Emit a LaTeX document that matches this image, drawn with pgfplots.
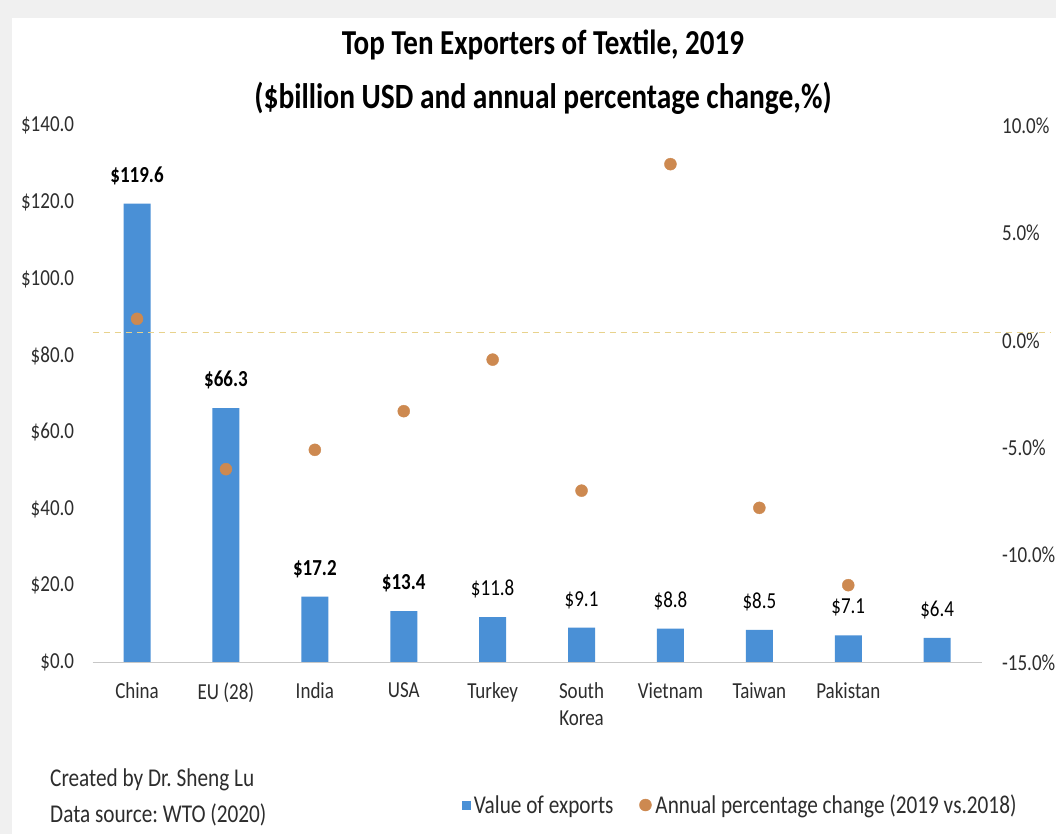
\documentclass[border=0pt]{standalone}
\usepackage{pgfplots}
\pgfplotsset{compat=1.18}
\usepackage{fontspec}
% the reference's text is set taller than it is wide
\setmainfont{Carlito}[FakeStretch=0.83]
\frenchspacing

\definecolor{barblue}{RGB}{74,144,214}
\definecolor{dotorange}{RGB}{205,137,80}
\definecolor{zeroline}{RGB}{232,210,140}
\definecolor{txt}{RGB}{45,45,45}

\newcommand{\lbl}{\fontsize{22.9}{27}\selectfont}
\newcommand{\note}{\fontsize{25.6}{30}\selectfont}

\begin{document}
\begin{tikzpicture}[x=1pt,y=1pt]
% page 1056 x 834, origin at the lower left corner of the axis box
\useasboundingbox (-92.6,-171.5) rectangle (963.4,662.5);
\fill[black!6] (-92.6,-171.5) rectangle (963.4,662.5);
\fill[white] (-80.6,-171.5) rectangle (963.4,644.5);

% titles and notes
\node[font=\fontsize{35}{40}\selectfont\bfseries] at (450.4,617.5) {Top Ten Exporters of Textile, 2019};
\node[font=\fontsize{35.5}{40}\selectfont\bfseries] at (450.4,564.5) {(\$billion USD and annual percentage change,\%)};
\node[font=\note, text=txt, anchor=west, inner sep=0pt] at (-42.6,-117.5) {Created by Dr.~Sheng Lu};
\node[font=\note, text=txt, anchor=west, inner sep=0pt] at (-42.6,-152.5) {Data source: WTO (2020)};

% exports, left axis
\begin{axis}[
  at={(0,0)}, anchor=south west,
  scale only axis, width=889pt, height=537pt,
  ybar, bar width=27pt,
  xmin=-0.5, xmax=9.5, ymin=0, ymax=140,
  xtick={0,...,9},
  xticklabels={China,EU (28),India,USA,Turkey,South\\Korea,Vietnam,Taiwan,Pakistan,},
  xticklabel style={align=center, font=\lbl, text=txt, yshift=-16.5pt},
  ytick={0,20,...,140},
  yticklabels={\$0.0,\$20.0,\$40.0,\$60.0,\$80.0,\$100.0,\$120.0,\$140.0},
  yticklabel style={font=\lbl, text=txt, xshift=-15pt},
  major tick length=0pt,
  axis line style={draw=none},
  point meta=explicit symbolic,
  nodes near coords,
  every node near coord/.append style={font=\lbl, text=black, yshift=15.5pt},
  clip=false,
]
\addplot[fill=barblue, draw=none] coordinates {
  (0,119.6) [\textbf{\$119.6}]
  (1,66.3)  [\textbf{\$66.3}]
  (2,17.2)  [\textbf{\$17.2}]
  (3,13.4)  [\textbf{\$13.4}]
  (4,11.8)  [\$11.8]
  (5,9.1)   [\$9.1]
  (6,8.8)   [\$8.8]
  (7,8.5)   [\$8.5]
  (8,7.1)   [\$7.1]
  (9,6.4)   [\$6.4]
};
\draw[black!22, line width=1.2pt] (axis cs:-0.5,0) -- (axis cs:9.5,0);
\end{axis}

% percentage change, right axis
\begin{axis}[
  at={(0,0)}, anchor=south west,
  scale only axis, width=889pt, height=537pt,
  xmin=-0.5, xmax=9.5, ymin=-15, ymax=10,
  axis x line=none, axis y line*=right,
  ytick={-15,-10,...,10},
  yticklabels={-15.0\%,-10.0\%,-5.0\%,0.0\%,5.0\%,10.0\%},
  yticklabel style={font=\lbl, text=txt, xshift=17pt},
  major tick length=0pt,
  axis line style={draw=none},
  clip=false,
  legend style={at={(axis description cs:0.7295,-0.2654)}, anchor=center,
    draw=none, fill=none, legend columns=2, font=\note, text=txt,
    inner xsep=0pt,
    nodes={inner xsep=4pt},
    /tikz/every even column/.append style={column sep=22pt}},
  legend cell align=left,
]
\draw[zeroline, line width=1.3pt, dash pattern=on 6pt off 5pt]
  (axis cs:-0.5,0.35) -- ++(958pt,0pt);
\addlegendimage{only marks, mark=square*, mark size=4pt, barblue}
\addlegendentry{Value of exports}
\addplot[only marks, mark=*, mark size=6pt, dotorange] coordinates {
  (0,1.0) (1,-6.0) (2,-5.1) (3,-3.3) (4,-0.9)
  (5,-7.0) (6,8.2) (7,-7.8) (8,-11.4)
};
\addlegendentry{Annual percentage change (2019 vs.2018)}
\end{axis}
\end{tikzpicture}
\end{document}
